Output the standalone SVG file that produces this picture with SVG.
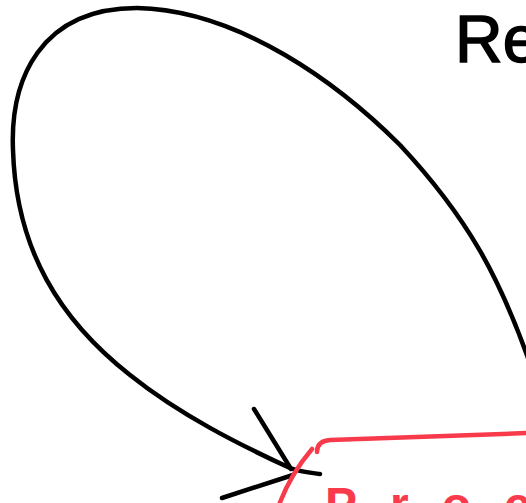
<svg xmlns="http://www.w3.org/2000/svg" width="526" height="503" viewBox="0 0 526 503">
<style>
.ink{fill:none;stroke:#000;stroke-width:4.5;stroke-linecap:round;stroke-linejoin:round}
.red{fill:none;stroke:#f83a4b;stroke-width:4.5;stroke-linecap:round;stroke-linejoin:round}
.lbl{font-family:"Liberation Sans",Arial,sans-serif}
</style>
<rect width="526" height="503" fill="#fff"/>
<g id="connectors">
<path class="ink" d="M 528 358 C 500 280, 470 220, 400 145 C 340 85, 240 10, 137 8 C 40 8, 10 80, 13 150 C 16 250, 60 320, 130 375 C 180 415, 240 445, 290 468 C 300 472, 312 473, 320 474"/>
<path class="ink" d="M 254 409 L 291 469 M 222 498 L 293 475"/>
</g>
<g id="node-re">
<text class="lbl" x="455" y="62" font-size="66" fill="#000" stroke="#000" stroke-width="1.5">Re</text>
</g>
<g id="node-red">
<path class="red" d="M 528 433 L 330 440 Q 317 441 317 452"/>
<path class="red" d="M 312 449 Q 290 475 279 505"/>
<text class="lbl" x="325" y="521" font-size="48" font-weight="bold" fill="#f83a4b" letter-spacing="33">Process</text>
</g>
</svg>
